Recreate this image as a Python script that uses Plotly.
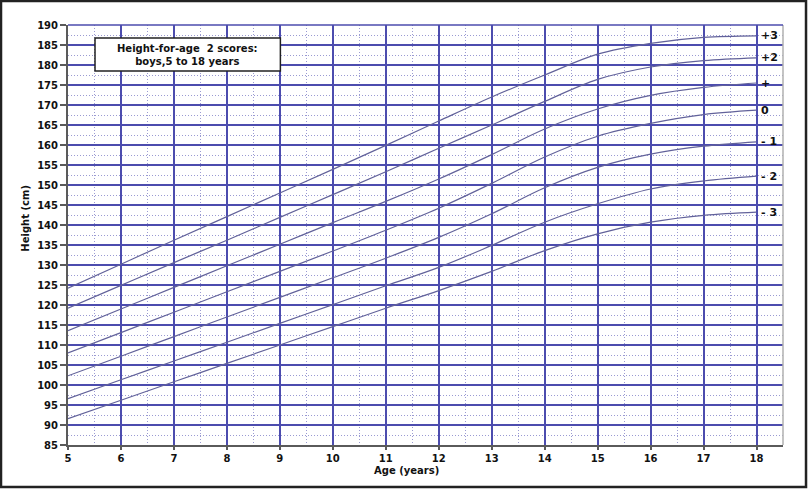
import plotly.graph_objects as go

# Age (years) and height (cm)
ages = list(range(5, 19))
sd_plus3 = [124.2, 130.2, 136.2, 142.1, 148.0, 153.9, 159.9, 166.0, 172.0, 177.5, 182.7, 185.4, 186.9, 187.3]
sd_plus2 = [119.2, 124.9, 130.6, 136.2, 141.9, 147.6, 153.3, 159.2, 165.0, 170.9, 176.4, 179.5, 181.1, 181.8]
sd_plus1 = [113.6, 119.0, 124.4, 129.8, 135.2, 140.6, 145.9, 151.5, 157.6, 164.0, 169.0, 172.4, 174.4, 175.5]
sd_zero = [108.0, 113.1, 118.2, 123.3, 128.4, 133.5, 138.7, 144.2, 150.4, 157.0, 162.2, 165.4, 167.6, 168.7]
sd_minus1 = [102.3, 107.2, 112.1, 117.0, 121.9, 126.8, 131.7, 136.9, 142.8, 149.3, 154.4, 157.7, 159.7, 160.8]
sd_minus2 = [96.6, 101.3, 106.0, 110.7, 115.4, 120.1, 124.8, 129.4, 134.9, 140.7, 145.3, 149.0, 151.0, 152.2]
sd_minus3 = [91.6, 96.2, 100.8, 105.4, 110.0, 114.6, 119.2, 123.6, 128.4, 133.6, 137.8, 140.7, 142.4, 143.2]

curve_labels = ["+3", "+2", "+", "0", "- 1", "- 2", "- 3"]
curves = [sd_plus3, sd_plus2, sd_plus1, sd_zero, sd_minus1, sd_minus2, sd_minus3]

FONT = "DejaVu Sans"
MAJOR = "#4c4cae"
MINOR = "#9a9ad2"
AXIS = "#5a5a5a"

fig = go.Figure()
for name, vals in zip(curve_labels, curves):
    fig.add_trace(go.Scatter(
        x=ages, y=vals, mode="lines", name=name,
        line=dict(color="#62629a", width=1.2, shape="spline", smoothing=1.0),
        showlegend=False, hoverinfo="skip",
    ))
    fig.add_annotation(
        x=ages[-1], y=vals[-1], text=name, showarrow=False,
        xanchor="left", xshift=2, yanchor="middle",
        font=dict(family=FONT, size=11, color="#111111", weight="bold"),
    )

fig.update_xaxes(
    range=[5, 18.5], tickmode="array", tickvals=ages, ticktext=[str(a) for a in ages],
    showgrid=True, gridcolor=MAJOR, gridwidth=1.5,
    minor=dict(dtick=0.5, tick0=5, showgrid=True, gridcolor=MINOR, griddash="1px,2px", gridwidth=1),
    showline=True, linecolor=AXIS, linewidth=2,
    ticks="outside", ticklen=3, tickcolor=AXIS, tickwidth=2,
    tickfont=dict(family=FONT, size=10, color="#111111", weight="bold"),
    zeroline=False,
)
fig.update_yaxes(
    range=[85, 190], tickmode="linear", tick0=85, dtick=5,
    showgrid=True, gridcolor=MAJOR, gridwidth=1.5,
    minor=dict(dtick=2.5, tick0=85, showgrid=True, gridcolor=MINOR, griddash="1px,2px", gridwidth=1),
    showline=True, linecolor=AXIS, linewidth=2,
    ticks="outside", ticklen=6, tickcolor=AXIS, tickwidth=1.5,
    tickfont=dict(family=FONT, size=10, color="#111111", weight="bold"),
    zeroline=False,
)

# title box
fig.add_shape(type="rect", x0=5.51, x1=9.01, y0=178.5, y1=186.75,
              line=dict(color="#222222", width=1.5), fillcolor="white", layer="above")
fig.add_annotation(x=7.26, y=182.6, text="Height-for-age  2 scores:<br>boys,5 to 18 years",
                   showarrow=False, font=dict(family=FONT, size=10, color="#111111", weight="bold"))

# axis titles
fig.add_annotation(x=11.4, y=-0.06, yref="paper", yanchor="middle", text="Age (years)", showarrow=False,
                   font=dict(family=FONT, size=10, color="#111111", weight="bold"))
fig.add_annotation(x=-0.07, xref="paper", y=0.54, yref="paper", text="Height (cm)", textangle=-90,
                   showarrow=False, font=dict(family=FONT, size=10, color="#111111", weight="bold"))

# right border of plot and outer frame
fig.add_shape(type="line", xref="paper", yref="paper", x0=1, x1=1, y0=0, y1=1,
              line=dict(color="#b0b0b0", width=1.5))
fig.add_shape(type="line", xref="paper", yref="paper", x0=0, x1=1, y0=1, y1=1,
              line=dict(color=MAJOR, width=1.5))
fig.add_shape(type="rect", xref="paper", yref="paper",
              x0=-0.0937, x1=1.0322, y0=-0.1, y1=1.0571,
              line=dict(color="#222222", width=2.5))

fig.update_layout(
    width=808, height=489,
    margin=dict(l=68, r=25, t=25, b=44),
    paper_bgcolor="white", plot_bgcolor="white",
)

fig.write_html("out.html", config={"displayModeBar": False},
               post_script="document.body.style.margin='0';document.body.style.overflow='hidden';")
